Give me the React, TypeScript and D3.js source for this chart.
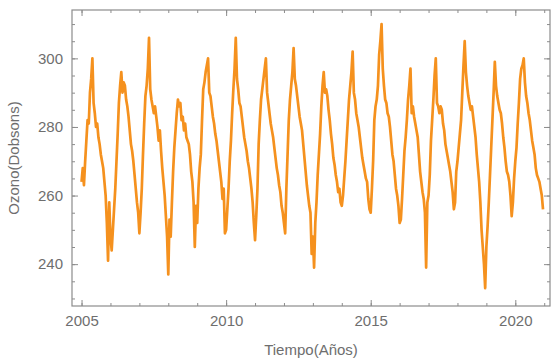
import { useRef, useEffect } from "react";
import * as d3 from "d3";

// Ozone column (Dobson units), sampled twice a month, one array per year
const START_YEAR = 2005;
const STEPS_PER_YEAR = 24;

const oz2005 = [264, 268, 263, 270, 276, 282, 281, 290, 294, 300, 287, 284, 280, 281, 277, 275, 272, 270, 268, 264, 260, 252, 241, 258];
const oz2006 = [248, 244, 250, 256, 262, 270, 278, 287, 292, 296, 290, 293, 292, 288, 286, 283, 279, 275, 273, 270, 266, 262, 258, 255];
const oz2007 = [249, 255, 262, 272, 281, 289, 292, 297, 306, 291, 288, 286, 284, 286, 283, 280, 276, 279, 273, 268, 264, 260, 254, 248];
const oz2008 = [237, 253, 248, 258, 267, 274, 279, 284, 288, 286, 287, 282, 283, 279, 281, 277, 276, 275, 272, 267, 264, 258, 245, 257];
const oz2009 = [252, 262, 268, 272, 282, 291, 293, 296, 298, 300, 290, 289, 286, 283, 281, 278, 276, 273, 270, 267, 264, 259, 262, 249];
const oz2010 = [250, 256, 262, 270, 276, 284, 291, 297, 306, 294, 291, 287, 286, 283, 280, 277, 275, 273, 270, 268, 265, 262, 258, 252];
const oz2011 = [247, 254, 262, 275, 282, 288, 291, 294, 297, 300, 290, 287, 284, 281, 279, 277, 274, 271, 268, 266, 263, 261, 257, 255];
const oz2012 = [252, 249, 262, 272, 282, 288, 292, 296, 303, 294, 292, 289, 286, 283, 281, 279, 275, 271, 267, 263, 260, 257, 255, 243];
const oz2013 = [248, 239, 252, 258, 266, 272, 278, 286, 292, 296, 290, 291, 289, 285, 282, 278, 275, 271, 269, 266, 264, 261, 262, 258];
const oz2014 = [257, 260, 265, 270, 276, 282, 288, 292, 296, 302, 290, 288, 284, 282, 280, 277, 274, 271, 269, 267, 265, 264, 259, 256];
const oz2015 = [255, 262, 270, 282, 286, 288, 292, 301, 305, 310, 297, 292, 288, 287, 284, 283, 280, 276, 272, 270, 266, 262, 260, 257];
const oz2016 = [252, 253, 259, 266, 273, 277, 282, 288, 292, 297, 284, 286, 283, 281, 279, 277, 272, 267, 264, 261, 259, 255, 239, 258];
const oz2017 = [260, 266, 276, 282, 288, 295, 300, 287, 286, 284, 286, 285, 281, 279, 275, 273, 271, 269, 267, 264, 261, 256, 258, 267];
const oz2018 = [270, 274, 278, 282, 290, 298, 305, 296, 292, 289, 287, 285, 286, 283, 280, 277, 272, 268, 264, 258, 250, 245, 240, 233];
const oz2019 = [245, 251, 258, 266, 274, 282, 290, 299, 292, 289, 287, 285, 284, 281, 277, 274, 270, 267, 266, 264, 260, 254, 258, 265];
const oz2020 = [270, 274, 281, 287, 294, 297, 298, 300, 293, 289, 287, 284, 282, 279, 276, 274, 272, 268, 266, 265, 264, 262, 260, 256];

const ozone = [
  oz2005, oz2006, oz2007, oz2008, oz2009, oz2010, oz2011, oz2012,
  oz2013, oz2014, oz2015, oz2016, oz2017, oz2018, oz2019, oz2020,
].flat();

const xMajor = [2005, 2010, 2015, 2020];
const yMajor = [240, 260, 280, 300];

export default function App() {
  const svgRef = useRef<SVGSVGElement>(null);
  const W = 553;
  const H = 358;

  useEffect(() => {
    if (!svgRef.current) return;
    const svg = d3.select(svgRef.current);
    svg.selectAll("*").remove();

    const m = { top: 10, right: 3, bottom: 52, left: 72 };
    const x = d3.scaleLinear().domain([2004.67, 2021.2]).range([m.left, W - m.right]);
    const y = d3.scaleLinear().domain([227.8, 314.1]).range([H - m.bottom, m.top]);

    const data = ozone.map((v, i) => ({ t: START_YEAR + i / STEPS_PER_YEAR, v }));

    // series
    const line = d3.line<{ t: number; v: number }>().x(d => x(d.t)).y(d => y(d.v));
    svg.append("path").datum(data)
      .attr("fill", "none").attr("stroke", "#f5911e").attr("stroke-width", 2.7)
      .attr("stroke-linejoin", "round").attr("d", line);

    const frameColor = "#8c8c8c";
    const textColor = "#6e6e6e";
    const font = "'Liberation Sans', Arial, sans-serif";

    const style = (sel: d3.Selection<SVGGElement, unknown, null, undefined>) => {
      sel.select(".domain").remove();
      sel.selectAll("line").attr("stroke", frameColor);
      sel.selectAll("text").attr("fill", textColor).attr("font-size", 15).attr("font-family", font);
    };

    const xMinor = d3.range(2005, 2022);
    const yMinor = d3.range(230, 315, 5);
    const yB = H - m.bottom;
    const xR = W - m.right;

    // bottom / top ticks, pointing inward
    svg.append("g").attr("transform", `translate(0,${yB})`)
      .call(d3.axisBottom(x).tickValues(xMinor).tickSize(-3).tickFormat(() => "")).call(style);
    svg.append("g").attr("transform", `translate(0,${yB})`)
      .call(d3.axisBottom(x).tickValues(xMajor).tickSize(-6).tickPadding(9).tickFormat(d3.format("d"))).call(style);
    svg.append("g").attr("transform", `translate(0,${m.top})`)
      .call(d3.axisTop(x).tickValues(xMinor).tickSize(-3).tickFormat(() => "")).call(style);
    svg.append("g").attr("transform", `translate(0,${m.top})`)
      .call(d3.axisTop(x).tickValues(xMajor).tickSize(-6).tickFormat(() => "")).call(style);

    // left / right ticks
    svg.append("g").attr("transform", `translate(${m.left},0)`)
      .call(d3.axisLeft(y).tickValues(yMinor).tickSize(-3).tickFormat(() => "")).call(style);
    svg.append("g").attr("transform", `translate(${m.left},0)`)
      .call(d3.axisLeft(y).tickValues(yMajor).tickSize(-6).tickPadding(9).tickFormat(d3.format("d"))).call(style);
    svg.append("g").attr("transform", `translate(${xR},0)`)
      .call(d3.axisRight(y).tickValues(yMinor).tickSize(-3).tickFormat(() => "")).call(style);
    svg.append("g").attr("transform", `translate(${xR},0)`)
      .call(d3.axisRight(y).tickValues(yMajor).tickSize(-6).tickFormat(() => "")).call(style);

    // frame
    svg.append("rect")
      .attr("x", m.left).attr("y", m.top).attr("width", xR - m.left).attr("height", yB - m.top)
      .attr("fill", "none").attr("stroke", frameColor).attr("stroke-width", 1.2);

    // axis titles
    svg.append("text")
      .attr("x", (m.left + xR) / 2).attr("y", 355)
      .attr("text-anchor", "middle").attr("fill", textColor).attr("font-size", 15).attr("font-family", font)
      .text("Tiempo(Años)");
    svg.append("text")
      .attr("transform", `translate(19,${(m.top + yB) / 2}) rotate(-90)`)
      .attr("text-anchor", "middle").attr("fill", textColor).attr("font-size", 15).attr("font-family", font)
      .text("Ozono(Dobsons)");
  }, []);

  return (
    <div style={{ position: "fixed", left: 0, top: 0, width: W, height: H, background: "#fff" }}>
      <svg ref={svgRef} width={W} height={H} style={{ display: "block" }} />
    </div>
  );
}
